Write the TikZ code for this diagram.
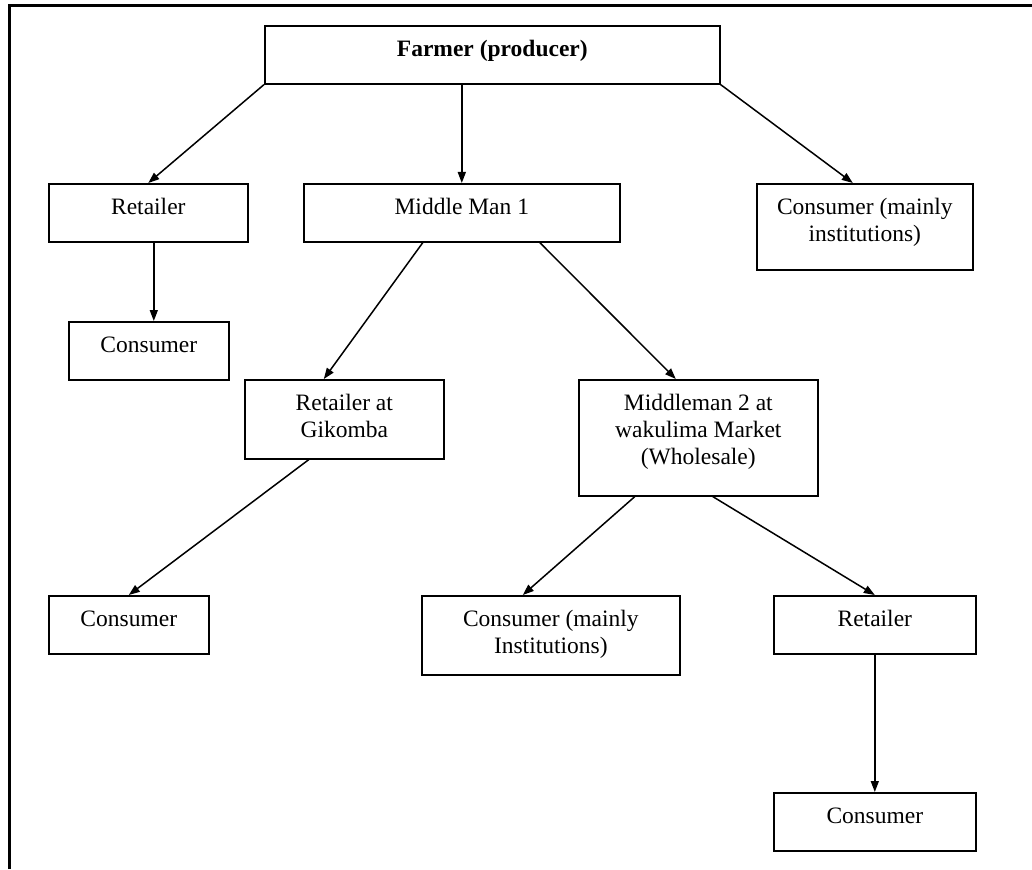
\documentclass[tikz,border=0pt]{standalone}
\usepackage{fontspec}
\setmainfont{Liberation Serif}
\usetikzlibrary{arrows.meta,calc}
\newcommand{\bt}[2][14pt]{\rule{0pt}{17pt}#2\rule[-#1]{0pt}{#1}}
\tikzset{
  box/.style={draw, line width=1.6pt, anchor=north west, align=center,
    inner xsep=0pt, inner ysep=13.5pt, font=\fontsize{23.5}{27}\selectfont},
  arr/.style={line width=1.5pt, -{Triangle[length=11pt,width=8pt]}},
  frameline/.style={line width=3pt}
}
\begin{document}
\begin{tikzpicture}[x=1pt,y=-1pt]
\useasboundingbox (0,0) rectangle (1032,869);
\coordinate (fa) at (9,869);
\coordinate (fb) at (9,6);
\coordinate (fc) at (1032,6);
\draw[frameline] (fa) -- (fb) -- (fc);

\node[box, minimum width=455pt] (far) at (264,25) {\bt{\bfseries Farmer (producer)}};
\node[box, minimum width=199pt] (ret1) at (48,183) {\bt{Retailer}};
\node[box, minimum width=316pt] (mm1) at (303,183) {\bt{Middle Man 1}};
\node[box, minimum width=216pt] (ci1) at (756,183) {\bt[15pt]{Consumer (mainly\\institutions)}};
\node[box, minimum width=160pt] (c1) at (68,321) {\bt{Consumer}};
\node[box, minimum width=199pt] (gik) at (244,379) {\bt[8pt]{Retailer at\\Gikomba}};
\node[box, minimum width=239pt] (mm2) at (578,379) {\bt[18pt]{Middleman 2 at\\wakulima Market\\(Wholesale)}};
\node[box, minimum width=160pt] (c2) at (48,595) {\bt{Consumer}};
\node[box, minimum width=258pt] (ci2) at (421,595) {\bt[8pt]{Consumer (mainly\\Institutions)}};
\node[box, minimum width=202pt] (ret2) at (773,595) {\bt{Retailer}};
\node[box, minimum width=202pt] (c3) at (773,792) {\bt{Consumer}};

\draw[arr] (far.south west) -- (ret1.north);
\draw[arr] (far.south -| mm1.north) -- (mm1.north);
\draw[arr] (far.south east) -- ([xshift=-12pt]ci1.north);
\draw[arr] ([xshift=5.5pt]ret1.south) -- ([xshift=5.5pt]ret1.south |- c1.north);
\draw[arr] ([xshift=-39pt]mm1.south) -- ([xshift=-20.5pt]gik.north);
\draw[arr] ([xshift=78pt]mm1.south) -- ([xshift=-22.5pt]mm2.north);
\draw[arr] ([xshift=-35.5pt]gik.south) -- (c2.north);
\draw[arr] ([xshift=-63.5pt]mm2.south) -- ([xshift=-28pt]ci2.north);
\draw[arr] ([xshift=14.5pt]mm2.south) -- (ret2.north);
\draw[arr] (ret2.south) -- (c3.north);
\end{tikzpicture}
\end{document}
